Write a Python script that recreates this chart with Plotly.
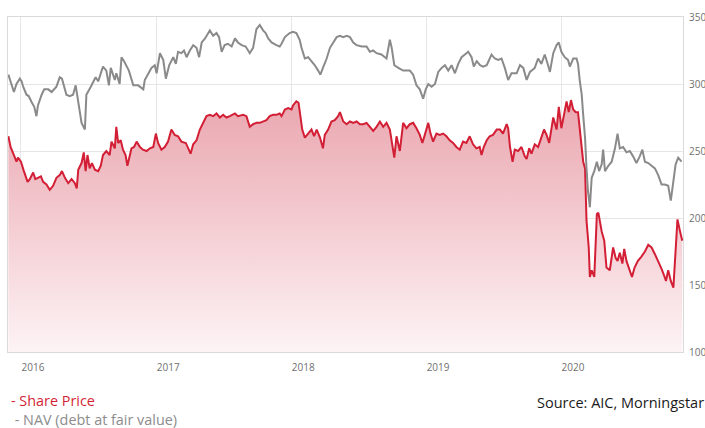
import plotly.graph_objects as go

# ---------------- data ----------------
nav_dates = [
    "2015-11-28", "2015-12-07", "2015-12-13", "2015-12-20", "2015-12-29", "2016-01-03", "2016-01-07", "2016-01-16",
    "2016-01-22", "2016-01-29", "2016-02-06", "2016-02-12", "2016-02-16", "2016-02-26", "2016-03-04", "2016-03-15",
    "2016-03-24", "2016-04-06", "2016-04-15", "2016-04-21", "2016-05-03", "2016-05-12", "2016-05-21", "2016-05-28",
    "2016-06-04", "2016-06-13", "2016-06-22", "2016-06-26", "2016-07-08", "2016-07-21", "2016-07-28", "2016-08-10",
    "2016-08-19", "2016-08-26", "2016-08-31", "2016-09-11", "2016-09-15", "2016-09-24", "2016-09-29", "2016-10-06",
    "2016-10-19", "2016-10-31", "2016-11-13", "2016-11-27", "2016-12-01", "2016-12-10", "2016-12-19", "2016-12-28",
    "2017-01-02", "2017-01-11", "2017-01-20", "2017-01-27", "2017-02-05", "2017-02-16", "2017-02-23", "2017-03-01",
    "2017-03-10", "2017-03-17", "2017-03-24", "2017-04-02", "2017-04-11", "2017-04-20", "2017-04-27", "2017-05-04",
    "2017-05-13", "2017-05-26", "2017-06-04", "2017-06-13", "2017-06-20", "2017-06-27", "2017-07-05", "2017-07-14",
    "2017-07-24", "2017-08-02", "2017-08-10", "2017-08-20", "2017-08-31", "2017-09-11", "2017-09-20", "2017-09-29",
    "2017-10-08", "2017-10-17", "2017-10-24", "2017-10-31", "2017-11-09", "2017-11-22", "2017-12-01", "2017-12-06",
    "2017-12-15", "2017-12-28", "2018-01-06", "2018-01-15", "2018-01-24", "2018-01-29", "2018-02-07", "2018-02-16",
    "2018-02-25", "2018-03-06", "2018-03-15", "2018-03-21", "2018-03-28", "2018-04-07", "2018-04-16", "2018-04-25",
    "2018-05-04", "2018-05-13", "2018-05-22", "2018-05-31", "2018-06-09", "2018-06-18", "2018-06-27", "2018-07-11",
    "2018-07-24", "2018-08-02", "2018-08-11", "2018-08-20", "2018-09-02", "2018-09-16", "2018-09-25", "2018-09-30",
    "2018-10-07", "2018-10-18", "2018-10-31", "2018-11-09", "2018-11-18", "2018-11-27", "2018-12-06", "2018-12-15",
    "2018-12-24", "2018-12-31", "2019-01-07", "2019-01-16", "2019-01-25", "2019-02-03", "2019-02-12", "2019-02-21",
    "2019-03-02", "2019-03-11", "2019-03-20", "2019-03-29", "2019-04-07", "2019-04-16", "2019-04-25", "2019-05-04",
    "2019-05-10", "2019-05-18", "2019-05-27", "2019-06-04", "2019-06-14", "2019-06-27", "2019-07-06", "2019-07-15",
    "2019-07-24", "2019-08-02", "2019-08-11", "2019-08-20", "2019-09-03", "2019-09-12", "2019-09-21", "2019-09-30",
    "2019-10-09", "2019-10-22", "2019-10-31", "2019-11-09", "2019-11-18", "2019-11-27", "2019-12-02", "2019-12-11",
    "2019-12-20", "2019-12-26", "2020-01-02", "2020-01-11", "2020-01-20", "2020-01-25", "2020-02-03", "2020-02-12",
    "2020-02-16", "2020-02-21", "2020-02-26", "2020-03-01", "2020-03-06", "2020-03-10", "2020-03-14", "2020-03-19",
    "2020-03-24", "2020-03-31", "2020-04-07", "2020-04-13", "2020-04-20", "2020-04-24", "2020-04-29", "2020-05-08",
    "2020-05-17", "2020-05-26", "2020-06-02", "2020-06-08", "2020-06-17", "2020-06-26", "2020-07-05", "2020-07-14",
    "2020-07-23", "2020-08-01", "2020-08-08", "2020-08-15", "2020-08-24", "2020-09-02", "2020-09-11", "2020-09-20",
    "2020-09-29", "2020-10-08", "2020-10-17", "2020-10-24", "2020-10-31", "2020-11-06", "2020-11-13", "2020-11-22",
]
nav_values = [
    307, 298, 294, 300, 304, 302, 298, 292,
    291, 287, 283, 276, 284, 292, 296, 296,
    294, 298, 305, 304, 292, 291, 292, 299,
    287, 271, 266, 292, 298, 305, 302, 313,
    310, 299, 312, 303, 308, 300, 320, 317,
    310, 299, 299, 296, 303, 308, 312, 314,
    308, 323, 318, 304, 314, 320, 315, 324,
    323, 325, 320, 325, 329, 327, 320, 331,
    334, 340, 336, 338, 335, 324, 329, 330,
    328, 334, 331, 329, 328, 323, 327, 341,
    344, 340, 338, 334, 331, 329, 328, 330,
    335, 338, 339, 338, 333, 327, 319, 320,
    317, 314, 310, 307, 312, 319, 327, 331,
    335, 336, 335, 336, 335, 331, 329, 328,
    328, 324, 325, 323, 322, 319, 333, 327,
    314, 312, 310, 310, 310, 307, 299, 296,
    289, 296, 300, 298, 300, 309, 312, 314,
    310, 314, 308, 315, 320, 322, 324, 320,
    313, 317, 314, 313, 314, 322, 319, 318,
    319, 312, 303, 308, 308, 314, 312, 303,
    309, 312, 319, 315, 322, 314, 309, 323,
    329, 331, 324, 320, 318, 313, 319, 319,
    315, 302, 292, 277, 260, 237, 220, 208,
    230, 235, 242, 235, 240, 251, 235, 239,
    242, 252, 263, 252, 253, 249, 250, 246,
    241, 246, 251, 242, 241, 239, 237, 232,
    225, 225, 224, 213, 227, 240, 245, 242,
]

share_dates = [
    "2015-11-28", "2015-12-04", "2015-12-13", "2015-12-20", "2015-12-24", "2016-01-01", "2016-01-09", "2016-01-19",
    "2016-01-25", "2016-02-03", "2016-02-09", "2016-02-16", "2016-02-24", "2016-03-01", "2016-03-10", "2016-03-19",
    "2016-03-28", "2016-04-06", "2016-04-15", "2016-04-21", "2016-04-29", "2016-05-08", "2016-05-17", "2016-05-26",
    "2016-05-31", "2016-06-04", "2016-06-13", "2016-06-19", "2016-06-24", "2016-06-29", "2016-07-05", "2016-07-11",
    "2016-07-19", "2016-07-28", "2016-08-04", "2016-08-10", "2016-08-19", "2016-08-28", "2016-09-02", "2016-09-11",
    "2016-09-15", "2016-09-20", "2016-09-27", "2016-10-03", "2016-10-10", "2016-10-15", "2016-10-21", "2016-10-26",
    "2016-11-02", "2016-11-09", "2016-11-18", "2016-11-26", "2016-12-06", "2016-12-15", "2016-12-24", "2016-12-31",
    "2017-01-06", "2017-01-15", "2017-01-24", "2017-02-02", "2017-02-11", "2017-02-20", "2017-03-01", "2017-03-10",
    "2017-03-22", "2017-03-31", "2017-04-04", "2017-04-11", "2017-04-20", "2017-04-29", "2017-05-08", "2017-05-17",
    "2017-05-26", "2017-06-04", "2017-06-13", "2017-06-22", "2017-07-01", "2017-07-10", "2017-07-19", "2017-08-02",
    "2017-08-10", "2017-08-24", "2017-09-02", "2017-09-11", "2017-09-20", "2017-09-29", "2017-10-08", "2017-10-17",
    "2017-10-26", "2017-11-04", "2017-11-13", "2017-11-22", "2017-12-01", "2017-12-06", "2017-12-15", "2017-12-24",
    "2018-01-02", "2018-01-06", "2018-01-15", "2018-01-21", "2018-01-25", "2018-01-31", "2018-02-07", "2018-02-16",
    "2018-02-25", "2018-03-04", "2018-03-11", "2018-03-20", "2018-03-28", "2018-04-02", "2018-04-11", "2018-04-20",
    "2018-04-29", "2018-05-08", "2018-05-13", "2018-05-22", "2018-05-31", "2018-06-09", "2018-06-18", "2018-06-27",
    "2018-07-06", "2018-07-15", "2018-07-24", "2018-08-02", "2018-08-11", "2018-08-20", "2018-08-29", "2018-09-07",
    "2018-09-16", "2018-09-25", "2018-10-04", "2018-10-07", "2018-10-13", "2018-10-22", "2018-10-31", "2018-11-09",
    "2018-11-18", "2018-11-27", "2018-12-06", "2018-12-15", "2018-12-22", "2018-12-29", "2019-01-07", "2019-01-13",
    "2019-01-20", "2019-01-29", "2019-02-07", "2019-02-16", "2019-02-25", "2019-03-06", "2019-03-15", "2019-03-24",
    "2019-04-02", "2019-04-11", "2019-04-20", "2019-04-29", "2019-05-08", "2019-05-17", "2019-05-26", "2019-05-31",
    "2019-06-06", "2019-06-14", "2019-06-22", "2019-07-01", "2019-07-11", "2019-07-20", "2019-07-28", "2019-08-07",
    "2019-08-11", "2019-08-16", "2019-08-23", "2019-08-29", "2019-09-07", "2019-09-16", "2019-09-25", "2019-09-30",
    "2019-10-07", "2019-10-13", "2019-10-22", "2019-10-31", "2019-11-09", "2019-11-16", "2019-11-23", "2019-11-30",
    "2019-12-11", "2019-12-20", "2019-12-26", "2020-01-02", "2020-01-09", "2020-01-16", "2020-01-22", "2020-01-28",
    "2020-02-03", "2020-02-10", "2020-02-16", "2020-02-21", "2020-02-26", "2020-03-01", "2020-03-06", "2020-03-10",
    "2020-03-16", "2020-03-19", "2020-03-24", "2020-03-31", "2020-04-07", "2020-04-11", "2020-04-20", "2020-04-27",
    "2020-05-03", "2020-05-12", "2020-05-21", "2020-05-28", "2020-06-02", "2020-06-08", "2020-06-15", "2020-06-20",
    "2020-06-26", "2020-07-05", "2020-07-11", "2020-07-18", "2020-07-27", "2020-08-05", "2020-08-15", "2020-08-24",
    "2020-09-02", "2020-09-11", "2020-09-20", "2020-09-29", "2020-10-06", "2020-10-11", "2020-10-17", "2020-10-24",
    "2020-10-31", "2020-11-04", "2020-11-11", "2020-11-18", "2020-11-24",
]
share_values = [
    261, 253, 247, 242, 245, 242, 235, 227,
    229, 234, 229, 230, 231, 227, 225, 221,
    224, 230, 232, 235, 230, 226, 229, 226,
    222, 236, 241, 249, 235, 247, 237, 241,
    236, 235, 239, 247, 250, 247, 257, 252,
    268, 256, 258, 251, 247, 239, 246, 252,
    253, 257, 253, 251, 250, 252, 253, 263,
    256, 251, 253, 257, 266, 262, 261, 257,
    256, 251, 248, 255, 258, 266, 271, 276,
    277, 276, 278, 275, 277, 275, 276, 278,
    276, 277, 276, 268, 270, 271, 271, 272,
    273, 276, 277, 277, 278, 276, 281, 282,
    281, 284, 287, 286, 277, 266, 260, 263,
    266, 261, 266, 260, 252, 262, 266, 272,
    273, 276, 279, 272, 270, 272, 271, 272,
    270, 270, 271, 268, 265, 268, 272, 268,
    271, 266, 252, 245, 261, 250, 271, 267,
    270, 271, 267, 262, 256, 263, 271, 263,
    257, 263, 262, 263, 261, 258, 256, 253,
    251, 257, 256, 261, 255, 252, 253, 247,
    253, 258, 261, 262, 266, 266, 263, 270,
    267, 253, 242, 251, 250, 253, 246, 244,
    252, 248, 255, 253, 260, 266, 262, 256,
    275, 266, 283, 267, 277, 287, 279, 288,
    281, 279, 279, 267, 253, 242, 237, 198,
    178, 156, 161, 156, 203, 204, 190, 183,
    163, 161, 178, 170, 168, 174, 166, 177,
    168, 161, 156, 163, 168, 171, 175, 180,
    178, 173, 168, 162, 157, 153, 161, 153,
    148, 168, 199, 190, 183,
]

year_ticks = ["2016-01-01", "2017-01-01", "2018-01-01", "2019-01-01", "2020-01-01"]
year_labels = ["2016", "2017", "2018", "2019", "2020"]
y_ticks = [100, 150, 200, 250, 300, 350]

assert len(nav_dates) == len(nav_values)
assert len(share_dates) == len(share_values)

RED = "#d31f35"
GREY = "#8a8a8a"

fig = go.Figure()
fig.add_trace(go.Scatter(
    x=share_dates, y=share_values, mode="lines", name="Share Price",
    line=dict(color=RED, width=2),
    fill="tozeroy",
    fillgradient=dict(type="vertical", start=100, stop=350,
                      colorscale=[[0, "rgb(253,243,245)"], [1, "rgb(228,142,153)"]]),
    hoverinfo="skip",
))
fig.add_trace(go.Scatter(
    x=nav_dates, y=nav_values, mode="lines", name="NAV (debt at fair value)",
    line=dict(color=GREY, width=2),
    hoverinfo="skip",
))

axis_font = dict(family="Open Sans", size=10, color="#707070")
fig.update_layout(
    width=705, height=428,
    margin=dict(l=8, r=22, t=17, b=76, autoexpand=False),
    paper_bgcolor="white", plot_bgcolor="white",
    showlegend=False,
    font=dict(family="Open Sans"),
    xaxis=dict(
        type="date", range=["2015-11-27", "2020-11-26"],
        tickvals=year_ticks, ticktext=year_labels,
        showgrid=True, gridcolor="#e6e6e6", gridwidth=1,
        showline=True, mirror=True, linecolor="#dadada", linewidth=1,
        ticks="", tickfont=axis_font, ticklabelshift=12, ticklabelstandoff=6,
        zeroline=False, automargin=False,
    ),
    yaxis=dict(
        side="right", range=[100, 350], tickvals=y_ticks,
        showgrid=True, gridcolor="#e6e6e6", gridwidth=1,
        showline=True, mirror=True, linecolor="#dadada", linewidth=1,
        ticks="", tickfont=axis_font, ticklabelstandoff=3,
        zeroline=False, automargin=False,
    ),
)

legend_text = (
    f"<span style='color:{RED}'>- Share Price</span><br>"
    "<span style='color:#8c8c8c'> - NAV (debt at fair value)</span>"
)
fig.add_annotation(text=legend_text, xref="paper", yref="paper",
                   x=(10 - 8) / 675, y=(352 - 410) / 335, xanchor="left", yanchor="middle",
                   align="left", showarrow=False, borderpad=0,
                   font=dict(family="Open Sans", size=14.4))
fig.add_annotation(text="Source: AIC, Morningstar", xref="paper", yref="paper",
                   x=(705 - 8) / 675, y=(352 - 402) / 335, xanchor="right", yanchor="middle",
                   showarrow=False, borderpad=0,
                   font=dict(family="Open Sans", size=14.5, color="#1a1a1a"))

fig.write_html(
    "out.html",
    config={"displayModeBar": False},
    post_script="document.body.style.margin='0';document.body.style.overflow='hidden';",
)
